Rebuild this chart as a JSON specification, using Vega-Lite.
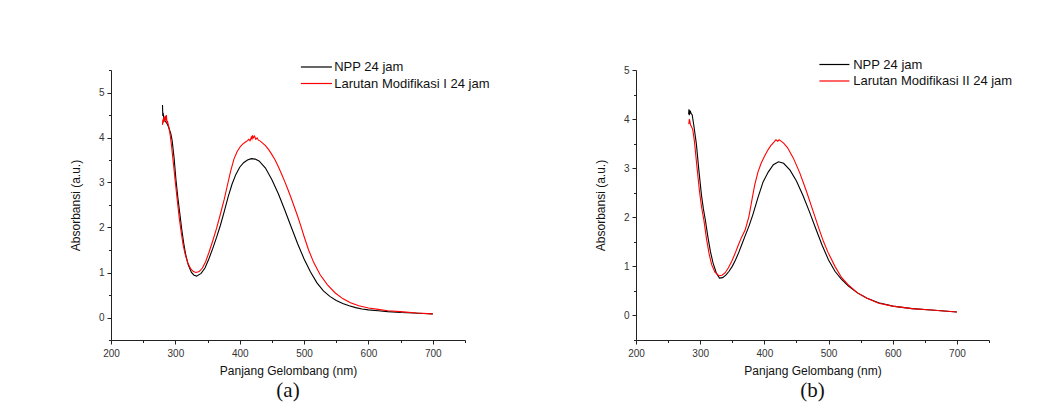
{
  "$schema": "https://vega.github.io/schema/vega-lite/v6.json",
  "background": "white",
  "padding": {"left": 69, "top": 57, "right": 5, "bottom": 2},
  "bounds": "flush",
  "spacing": 171,
  "datasets": {
    "a": [
      {"nm": 280, "abs": 4.72, "s": "NPP 24 jam"},
      {"nm": 280.5, "abs": 4.48, "s": "NPP 24 jam"},
      {"nm": 281, "abs": 4.55, "s": "NPP 24 jam"},
      {"nm": 282, "abs": 4.42, "s": "NPP 24 jam"},
      {"nm": 283, "abs": 4.4, "s": "NPP 24 jam"},
      {"nm": 284, "abs": 4.36, "s": "NPP 24 jam"},
      {"nm": 285, "abs": 4.35, "s": "NPP 24 jam"},
      {"nm": 287, "abs": 4.31, "s": "NPP 24 jam"},
      {"nm": 289, "abs": 4.25, "s": "NPP 24 jam"},
      {"nm": 291, "abs": 4.17, "s": "NPP 24 jam"},
      {"nm": 293, "abs": 4.08, "s": "NPP 24 jam"},
      {"nm": 295, "abs": 3.93, "s": "NPP 24 jam"},
      {"nm": 298, "abs": 3.55, "s": "NPP 24 jam"},
      {"nm": 301, "abs": 3.05, "s": "NPP 24 jam"},
      {"nm": 304, "abs": 2.65, "s": "NPP 24 jam"},
      {"nm": 307, "abs": 2.3, "s": "NPP 24 jam"},
      {"nm": 310, "abs": 1.95, "s": "NPP 24 jam"},
      {"nm": 313, "abs": 1.65, "s": "NPP 24 jam"},
      {"nm": 316, "abs": 1.4, "s": "NPP 24 jam"},
      {"nm": 320, "abs": 1.17, "s": "NPP 24 jam"},
      {"nm": 325, "abs": 1.0, "s": "NPP 24 jam"},
      {"nm": 329, "abs": 0.94, "s": "NPP 24 jam"},
      {"nm": 333, "abs": 0.92, "s": "NPP 24 jam"},
      {"nm": 340, "abs": 0.98, "s": "NPP 24 jam"},
      {"nm": 346, "abs": 1.1, "s": "NPP 24 jam"},
      {"nm": 352, "abs": 1.3, "s": "NPP 24 jam"},
      {"nm": 358, "abs": 1.53, "s": "NPP 24 jam"},
      {"nm": 364, "abs": 1.78, "s": "NPP 24 jam"},
      {"nm": 370, "abs": 2.05, "s": "NPP 24 jam"},
      {"nm": 376, "abs": 2.36, "s": "NPP 24 jam"},
      {"nm": 382, "abs": 2.68, "s": "NPP 24 jam"},
      {"nm": 388, "abs": 2.96, "s": "NPP 24 jam"},
      {"nm": 394, "abs": 3.18, "s": "NPP 24 jam"},
      {"nm": 400, "abs": 3.34, "s": "NPP 24 jam"},
      {"nm": 406, "abs": 3.44, "s": "NPP 24 jam"},
      {"nm": 412, "abs": 3.5, "s": "NPP 24 jam"},
      {"nm": 418, "abs": 3.53, "s": "NPP 24 jam"},
      {"nm": 424, "abs": 3.52, "s": "NPP 24 jam"},
      {"nm": 430, "abs": 3.48, "s": "NPP 24 jam"},
      {"nm": 440, "abs": 3.32, "s": "NPP 24 jam"},
      {"nm": 450, "abs": 3.06, "s": "NPP 24 jam"},
      {"nm": 460, "abs": 2.75, "s": "NPP 24 jam"},
      {"nm": 470, "abs": 2.39, "s": "NPP 24 jam"},
      {"nm": 480, "abs": 2.01, "s": "NPP 24 jam"},
      {"nm": 490, "abs": 1.64, "s": "NPP 24 jam"},
      {"nm": 500, "abs": 1.3, "s": "NPP 24 jam"},
      {"nm": 510, "abs": 1.01, "s": "NPP 24 jam"},
      {"nm": 520, "abs": 0.77, "s": "NPP 24 jam"},
      {"nm": 530, "abs": 0.59, "s": "NPP 24 jam"},
      {"nm": 540, "abs": 0.47, "s": "NPP 24 jam"},
      {"nm": 550, "abs": 0.38, "s": "NPP 24 jam"},
      {"nm": 560, "abs": 0.31, "s": "NPP 24 jam"},
      {"nm": 570, "abs": 0.26, "s": "NPP 24 jam"},
      {"nm": 580, "abs": 0.22, "s": "NPP 24 jam"},
      {"nm": 590, "abs": 0.19, "s": "NPP 24 jam"},
      {"nm": 600, "abs": 0.17, "s": "NPP 24 jam"},
      {"nm": 615, "abs": 0.15, "s": "NPP 24 jam"},
      {"nm": 630, "abs": 0.13, "s": "NPP 24 jam"},
      {"nm": 650, "abs": 0.11, "s": "NPP 24 jam"},
      {"nm": 670, "abs": 0.1, "s": "NPP 24 jam"},
      {"nm": 685, "abs": 0.09, "s": "NPP 24 jam"},
      {"nm": 700, "abs": 0.08, "s": "NPP 24 jam"},
      {"nm": 280, "abs": 4.28, "s": "Larutan Modifikasi I 24 jam"},
      {"nm": 280.5, "abs": 4.4, "s": "Larutan Modifikasi I 24 jam"},
      {"nm": 281, "abs": 4.32, "s": "Larutan Modifikasi I 24 jam"},
      {"nm": 282, "abs": 4.45, "s": "Larutan Modifikasi I 24 jam"},
      {"nm": 283, "abs": 4.36, "s": "Larutan Modifikasi I 24 jam"},
      {"nm": 284, "abs": 4.48, "s": "Larutan Modifikasi I 24 jam"},
      {"nm": 285, "abs": 4.38, "s": "Larutan Modifikasi I 24 jam"},
      {"nm": 286, "abs": 4.5, "s": "Larutan Modifikasi I 24 jam"},
      {"nm": 287, "abs": 4.33, "s": "Larutan Modifikasi I 24 jam"},
      {"nm": 288, "abs": 4.35, "s": "Larutan Modifikasi I 24 jam"},
      {"nm": 290, "abs": 4.22, "s": "Larutan Modifikasi I 24 jam"},
      {"nm": 292, "abs": 4.05, "s": "Larutan Modifikasi I 24 jam"},
      {"nm": 294, "abs": 3.82, "s": "Larutan Modifikasi I 24 jam"},
      {"nm": 297, "abs": 3.42, "s": "Larutan Modifikasi I 24 jam"},
      {"nm": 300, "abs": 3.0, "s": "Larutan Modifikasi I 24 jam"},
      {"nm": 303, "abs": 2.6, "s": "Larutan Modifikasi I 24 jam"},
      {"nm": 306, "abs": 2.22, "s": "Larutan Modifikasi I 24 jam"},
      {"nm": 309, "abs": 1.9, "s": "Larutan Modifikasi I 24 jam"},
      {"nm": 312, "abs": 1.62, "s": "Larutan Modifikasi I 24 jam"},
      {"nm": 315, "abs": 1.42, "s": "Larutan Modifikasi I 24 jam"},
      {"nm": 319, "abs": 1.22, "s": "Larutan Modifikasi I 24 jam"},
      {"nm": 324, "abs": 1.08, "s": "Larutan Modifikasi I 24 jam"},
      {"nm": 328, "abs": 1.02, "s": "Larutan Modifikasi I 24 jam"},
      {"nm": 332, "abs": 1.0, "s": "Larutan Modifikasi I 24 jam"},
      {"nm": 337, "abs": 1.02, "s": "Larutan Modifikasi I 24 jam"},
      {"nm": 342, "abs": 1.1, "s": "Larutan Modifikasi I 24 jam"},
      {"nm": 347, "abs": 1.24, "s": "Larutan Modifikasi I 24 jam"},
      {"nm": 352, "abs": 1.44, "s": "Larutan Modifikasi I 24 jam"},
      {"nm": 358, "abs": 1.7, "s": "Larutan Modifikasi I 24 jam"},
      {"nm": 364, "abs": 1.98, "s": "Larutan Modifikasi I 24 jam"},
      {"nm": 370, "abs": 2.3, "s": "Larutan Modifikasi I 24 jam"},
      {"nm": 376, "abs": 2.63, "s": "Larutan Modifikasi I 24 jam"},
      {"nm": 381, "abs": 2.95, "s": "Larutan Modifikasi I 24 jam"},
      {"nm": 386, "abs": 3.26, "s": "Larutan Modifikasi I 24 jam"},
      {"nm": 391, "abs": 3.52, "s": "Larutan Modifikasi I 24 jam"},
      {"nm": 396, "abs": 3.69, "s": "Larutan Modifikasi I 24 jam"},
      {"nm": 401, "abs": 3.8, "s": "Larutan Modifikasi I 24 jam"},
      {"nm": 405, "abs": 3.86, "s": "Larutan Modifikasi I 24 jam"},
      {"nm": 409, "abs": 3.9, "s": "Larutan Modifikasi I 24 jam"},
      {"nm": 412, "abs": 3.93, "s": "Larutan Modifikasi I 24 jam"},
      {"nm": 414, "abs": 3.96, "s": "Larutan Modifikasi I 24 jam"},
      {"nm": 416, "abs": 3.93, "s": "Larutan Modifikasi I 24 jam"},
      {"nm": 418, "abs": 4.01, "s": "Larutan Modifikasi I 24 jam"},
      {"nm": 419, "abs": 3.97, "s": "Larutan Modifikasi I 24 jam"},
      {"nm": 420, "abs": 4.05, "s": "Larutan Modifikasi I 24 jam"},
      {"nm": 421, "abs": 3.99, "s": "Larutan Modifikasi I 24 jam"},
      {"nm": 423, "abs": 4.03, "s": "Larutan Modifikasi I 24 jam"},
      {"nm": 425, "abs": 3.96, "s": "Larutan Modifikasi I 24 jam"},
      {"nm": 427, "abs": 3.99, "s": "Larutan Modifikasi I 24 jam"},
      {"nm": 429, "abs": 3.94, "s": "Larutan Modifikasi I 24 jam"},
      {"nm": 432, "abs": 3.92, "s": "Larutan Modifikasi I 24 jam"},
      {"nm": 436, "abs": 3.87, "s": "Larutan Modifikasi I 24 jam"},
      {"nm": 440, "abs": 3.82, "s": "Larutan Modifikasi I 24 jam"},
      {"nm": 445, "abs": 3.73, "s": "Larutan Modifikasi I 24 jam"},
      {"nm": 450, "abs": 3.62, "s": "Larutan Modifikasi I 24 jam"},
      {"nm": 455, "abs": 3.5, "s": "Larutan Modifikasi I 24 jam"},
      {"nm": 460, "abs": 3.35, "s": "Larutan Modifikasi I 24 jam"},
      {"nm": 465, "abs": 3.19, "s": "Larutan Modifikasi I 24 jam"},
      {"nm": 470, "abs": 3.02, "s": "Larutan Modifikasi I 24 jam"},
      {"nm": 475, "abs": 2.84, "s": "Larutan Modifikasi I 24 jam"},
      {"nm": 480, "abs": 2.65, "s": "Larutan Modifikasi I 24 jam"},
      {"nm": 485, "abs": 2.45, "s": "Larutan Modifikasi I 24 jam"},
      {"nm": 490, "abs": 2.25, "s": "Larutan Modifikasi I 24 jam"},
      {"nm": 495, "abs": 2.03, "s": "Larutan Modifikasi I 24 jam"},
      {"nm": 500, "abs": 1.8, "s": "Larutan Modifikasi I 24 jam"},
      {"nm": 507, "abs": 1.5, "s": "Larutan Modifikasi I 24 jam"},
      {"nm": 515, "abs": 1.22, "s": "Larutan Modifikasi I 24 jam"},
      {"nm": 525, "abs": 0.95, "s": "Larutan Modifikasi I 24 jam"},
      {"nm": 536, "abs": 0.73, "s": "Larutan Modifikasi I 24 jam"},
      {"nm": 548, "abs": 0.55, "s": "Larutan Modifikasi I 24 jam"},
      {"nm": 560, "abs": 0.42, "s": "Larutan Modifikasi I 24 jam"},
      {"nm": 572, "abs": 0.33, "s": "Larutan Modifikasi I 24 jam"},
      {"nm": 585, "abs": 0.26, "s": "Larutan Modifikasi I 24 jam"},
      {"nm": 600, "abs": 0.21, "s": "Larutan Modifikasi I 24 jam"},
      {"nm": 615, "abs": 0.18, "s": "Larutan Modifikasi I 24 jam"},
      {"nm": 630, "abs": 0.15, "s": "Larutan Modifikasi I 24 jam"},
      {"nm": 650, "abs": 0.13, "s": "Larutan Modifikasi I 24 jam"},
      {"nm": 675, "abs": 0.1, "s": "Larutan Modifikasi I 24 jam"},
      {"nm": 700, "abs": 0.08, "s": "Larutan Modifikasi I 24 jam"}
    ],
    "b": [
      {"nm": 282, "abs": 4.1, "s": "NPP 24 jam"},
      {"nm": 282.5, "abs": 4.2, "s": "NPP 24 jam"},
      {"nm": 283, "abs": 4.08, "s": "NPP 24 jam"},
      {"nm": 283.5, "abs": 4.18, "s": "NPP 24 jam"},
      {"nm": 284, "abs": 4.12, "s": "NPP 24 jam"},
      {"nm": 285, "abs": 4.15, "s": "NPP 24 jam"},
      {"nm": 286, "abs": 4.11, "s": "NPP 24 jam"},
      {"nm": 287.5, "abs": 4.09, "s": "NPP 24 jam"},
      {"nm": 290, "abs": 3.88, "s": "NPP 24 jam"},
      {"nm": 294, "abs": 3.5, "s": "NPP 24 jam"},
      {"nm": 298, "abs": 2.95, "s": "NPP 24 jam"},
      {"nm": 302, "abs": 2.45, "s": "NPP 24 jam"},
      {"nm": 305, "abs": 2.17, "s": "NPP 24 jam"},
      {"nm": 308, "abs": 1.95, "s": "NPP 24 jam"},
      {"nm": 312, "abs": 1.6, "s": "NPP 24 jam"},
      {"nm": 316, "abs": 1.3, "s": "NPP 24 jam"},
      {"nm": 320, "abs": 1.07, "s": "NPP 24 jam"},
      {"nm": 325, "abs": 0.87, "s": "NPP 24 jam"},
      {"nm": 330, "abs": 0.76, "s": "NPP 24 jam"},
      {"nm": 335, "abs": 0.77, "s": "NPP 24 jam"},
      {"nm": 340, "abs": 0.82, "s": "NPP 24 jam"},
      {"nm": 345, "abs": 0.9, "s": "NPP 24 jam"},
      {"nm": 350, "abs": 1.0, "s": "NPP 24 jam"},
      {"nm": 355, "abs": 1.13, "s": "NPP 24 jam"},
      {"nm": 360, "abs": 1.28, "s": "NPP 24 jam"},
      {"nm": 365, "abs": 1.45, "s": "NPP 24 jam"},
      {"nm": 370, "abs": 1.62, "s": "NPP 24 jam"},
      {"nm": 376, "abs": 1.82, "s": "NPP 24 jam"},
      {"nm": 382, "abs": 2.05, "s": "NPP 24 jam"},
      {"nm": 390, "abs": 2.4, "s": "NPP 24 jam"},
      {"nm": 398, "abs": 2.72, "s": "NPP 24 jam"},
      {"nm": 406, "abs": 2.92, "s": "NPP 24 jam"},
      {"nm": 414, "abs": 3.07, "s": "NPP 24 jam"},
      {"nm": 422, "abs": 3.13, "s": "NPP 24 jam"},
      {"nm": 430, "abs": 3.1, "s": "NPP 24 jam"},
      {"nm": 440, "abs": 2.96, "s": "NPP 24 jam"},
      {"nm": 450, "abs": 2.74, "s": "NPP 24 jam"},
      {"nm": 460, "abs": 2.45, "s": "NPP 24 jam"},
      {"nm": 470, "abs": 2.12, "s": "NPP 24 jam"},
      {"nm": 480, "abs": 1.77, "s": "NPP 24 jam"},
      {"nm": 490, "abs": 1.43, "s": "NPP 24 jam"},
      {"nm": 500, "abs": 1.13, "s": "NPP 24 jam"},
      {"nm": 510, "abs": 0.9, "s": "NPP 24 jam"},
      {"nm": 520, "abs": 0.74, "s": "NPP 24 jam"},
      {"nm": 531, "abs": 0.6, "s": "NPP 24 jam"},
      {"nm": 545, "abs": 0.46, "s": "NPP 24 jam"},
      {"nm": 560, "abs": 0.35, "s": "NPP 24 jam"},
      {"nm": 578, "abs": 0.26, "s": "NPP 24 jam"},
      {"nm": 600, "abs": 0.19, "s": "NPP 24 jam"},
      {"nm": 630, "abs": 0.14, "s": "NPP 24 jam"},
      {"nm": 660, "abs": 0.11, "s": "NPP 24 jam"},
      {"nm": 680, "abs": 0.09, "s": "NPP 24 jam"},
      {"nm": 700, "abs": 0.07, "s": "NPP 24 jam"},
      {"nm": 282, "abs": 3.92, "s": "Larutan Modifikasi II 24 jam"},
      {"nm": 282.5, "abs": 3.9, "s": "Larutan Modifikasi II 24 jam"},
      {"nm": 283, "abs": 4.0, "s": "Larutan Modifikasi II 24 jam"},
      {"nm": 284, "abs": 3.95, "s": "Larutan Modifikasi II 24 jam"},
      {"nm": 285, "abs": 3.88, "s": "Larutan Modifikasi II 24 jam"},
      {"nm": 286, "abs": 3.86, "s": "Larutan Modifikasi II 24 jam"},
      {"nm": 288.5, "abs": 3.78, "s": "Larutan Modifikasi II 24 jam"},
      {"nm": 291, "abs": 3.55, "s": "Larutan Modifikasi II 24 jam"},
      {"nm": 295, "abs": 3.02, "s": "Larutan Modifikasi II 24 jam"},
      {"nm": 299, "abs": 2.52, "s": "Larutan Modifikasi II 24 jam"},
      {"nm": 302, "abs": 2.22, "s": "Larutan Modifikasi II 24 jam"},
      {"nm": 306, "abs": 1.92, "s": "Larutan Modifikasi II 24 jam"},
      {"nm": 310, "abs": 1.55, "s": "Larutan Modifikasi II 24 jam"},
      {"nm": 314, "abs": 1.25, "s": "Larutan Modifikasi II 24 jam"},
      {"nm": 318, "abs": 1.03, "s": "Larutan Modifikasi II 24 jam"},
      {"nm": 323, "abs": 0.88, "s": "Larutan Modifikasi II 24 jam"},
      {"nm": 329, "abs": 0.81, "s": "Larutan Modifikasi II 24 jam"},
      {"nm": 334, "abs": 0.82, "s": "Larutan Modifikasi II 24 jam"},
      {"nm": 339, "abs": 0.87, "s": "Larutan Modifikasi II 24 jam"},
      {"nm": 344, "abs": 0.97, "s": "Larutan Modifikasi II 24 jam"},
      {"nm": 349, "abs": 1.1, "s": "Larutan Modifikasi II 24 jam"},
      {"nm": 354, "abs": 1.25, "s": "Larutan Modifikasi II 24 jam"},
      {"nm": 359, "abs": 1.42, "s": "Larutan Modifikasi II 24 jam"},
      {"nm": 364, "abs": 1.58, "s": "Larutan Modifikasi II 24 jam"},
      {"nm": 370, "abs": 1.74, "s": "Larutan Modifikasi II 24 jam"},
      {"nm": 376, "abs": 2.02, "s": "Larutan Modifikasi II 24 jam"},
      {"nm": 381, "abs": 2.38, "s": "Larutan Modifikasi II 24 jam"},
      {"nm": 385, "abs": 2.66, "s": "Larutan Modifikasi II 24 jam"},
      {"nm": 390, "abs": 2.92, "s": "Larutan Modifikasi II 24 jam"},
      {"nm": 395, "abs": 3.1, "s": "Larutan Modifikasi II 24 jam"},
      {"nm": 400, "abs": 3.24, "s": "Larutan Modifikasi II 24 jam"},
      {"nm": 405, "abs": 3.36, "s": "Larutan Modifikasi II 24 jam"},
      {"nm": 410, "abs": 3.46, "s": "Larutan Modifikasi II 24 jam"},
      {"nm": 415, "abs": 3.53, "s": "Larutan Modifikasi II 24 jam"},
      {"nm": 418, "abs": 3.58, "s": "Larutan Modifikasi II 24 jam"},
      {"nm": 421, "abs": 3.55, "s": "Larutan Modifikasi II 24 jam"},
      {"nm": 423, "abs": 3.58, "s": "Larutan Modifikasi II 24 jam"},
      {"nm": 426, "abs": 3.55, "s": "Larutan Modifikasi II 24 jam"},
      {"nm": 430, "abs": 3.51, "s": "Larutan Modifikasi II 24 jam"},
      {"nm": 436, "abs": 3.42, "s": "Larutan Modifikasi II 24 jam"},
      {"nm": 445, "abs": 3.21, "s": "Larutan Modifikasi II 24 jam"},
      {"nm": 455, "abs": 2.91, "s": "Larutan Modifikasi II 24 jam"},
      {"nm": 465, "abs": 2.55, "s": "Larutan Modifikasi II 24 jam"},
      {"nm": 475, "abs": 2.16, "s": "Larutan Modifikasi II 24 jam"},
      {"nm": 485, "abs": 1.77, "s": "Larutan Modifikasi II 24 jam"},
      {"nm": 492, "abs": 1.51, "s": "Larutan Modifikasi II 24 jam"},
      {"nm": 499, "abs": 1.29, "s": "Larutan Modifikasi II 24 jam"},
      {"nm": 510, "abs": 1.0, "s": "Larutan Modifikasi II 24 jam"},
      {"nm": 520, "abs": 0.78, "s": "Larutan Modifikasi II 24 jam"},
      {"nm": 531, "abs": 0.62, "s": "Larutan Modifikasi II 24 jam"},
      {"nm": 545, "abs": 0.46, "s": "Larutan Modifikasi II 24 jam"},
      {"nm": 560, "abs": 0.35, "s": "Larutan Modifikasi II 24 jam"},
      {"nm": 578, "abs": 0.25, "s": "Larutan Modifikasi II 24 jam"},
      {"nm": 600, "abs": 0.19, "s": "Larutan Modifikasi II 24 jam"},
      {"nm": 630, "abs": 0.14, "s": "Larutan Modifikasi II 24 jam"},
      {"nm": 660, "abs": 0.11, "s": "Larutan Modifikasi II 24 jam"},
      {"nm": 680, "abs": 0.09, "s": "Larutan Modifikasi II 24 jam"},
      {"nm": 700, "abs": 0.07, "s": "Larutan Modifikasi II 24 jam"}
    ]
  },
  "hconcat": [
    {
      "width": 354,
      "height": 270,
      "data": {"name": "a"},
      "title": {"text": "(a)", "orient": "bottom", "frame": "group"},
      "mark": {"type": "line", "strokeWidth": 1.1},
      "encoding": {
        "x": {
          "field": "nm", "type": "quantitative",
          "scale": {"domain": [200, 750], "nice": false, "zero": false},
          "axis": {
            "title": "Panjang Gelombang (nm)",
            "values": [200, 250, 300, 350, 400, 450, 500, 550, 600, 650, 700, 750],
            "labelExpr": "datum.value % 100 === 0 ? format(datum.value, 'd') : ''",
            "tickSize": {"condition": {"test": "datum.value % 100 !== 0", "value": 2.5}, "value": 4}
          }
        },
        "y": {
          "field": "abs", "type": "quantitative",
          "scale": {"domain": [-0.5, 5.5], "nice": false, "zero": false},
          "axis": {
            "title": "Absorbansi (a.u.)",
            "values": [-0.5, 0, 0.5, 1, 1.5, 2, 2.5, 3, 3.5, 4, 4.5, 5, 5.5],
            "labelExpr": "datum.value % 1 === 0 ? format(datum.value, 'd') : ''",
            "tickSize": {"condition": {"test": "datum.value % 1 !== 0", "value": 2.5}, "value": 4}
          }
        },
        "color": {
          "field": "s", "type": "nominal",
          "scale": {"domain": ["NPP 24 jam", "Larutan Modifikasi I 24 jam"], "range": ["#000000", "#ff0000"]},
          "legend": {"orient": "none", "legendX": 198.4, "legendY": -10, "symbolSize": 154, "labelOffset": 10.8}
        }
      }
    },
    {
      "width": 353,
      "height": 270,
      "data": {"name": "b"},
      "title": {"text": "(b)", "orient": "bottom", "frame": "group"},
      "mark": {"type": "line", "strokeWidth": 1.1},
      "encoding": {
        "x": {
          "field": "nm", "type": "quantitative",
          "scale": {"domain": [200, 750], "nice": false, "zero": false},
          "axis": {
            "title": "Panjang Gelombang (nm)",
            "values": [200, 250, 300, 350, 400, 450, 500, 550, 600, 650, 700, 750],
            "labelExpr": "datum.value % 100 === 0 ? format(datum.value, 'd') : ''",
            "tickSize": {"condition": {"test": "datum.value % 100 !== 0", "value": 2.5}, "value": 4}
          }
        },
        "y": {
          "field": "abs", "type": "quantitative",
          "scale": {"domain": [-0.5, 5], "nice": false, "zero": false},
          "axis": {
            "title": "Absorbansi (a.u.)",
            "values": [-0.5, 0, 0.5, 1, 1.5, 2, 2.5, 3, 3.5, 4, 4.5, 5],
            "labelExpr": "datum.value % 1 === 0 ? format(datum.value, 'd') : ''",
            "tickSize": {"condition": {"test": "datum.value % 1 !== 0", "value": 2.5}, "value": 4}
          }
        },
        "color": {
          "field": "s", "type": "nominal",
          "scale": {"domain": ["NPP 24 jam", "Larutan Modifikasi II 24 jam"], "range": ["#000000", "#ff0000"]},
          "legend": {"orient": "none", "legendX": 191.4, "legendY": -12.5, "symbolSize": 144, "labelOffset": 11.8}
        }
      }
    }
  ],
  "resolve": {"scale": {"color": "independent", "x": "independent", "y": "independent"}, "legend": {"color": "independent"}},
  "config": {
    "view": {"stroke": null},
    "font": "Liberation Sans",
    "axis": {
      "grid": false,
      "domainColor": "#222222",
      "domainWidth": 1,
      "tickColor": "#222222",
      "tickWidth": 1,
      "labelFont": "Liberation Sans",
      "labelFontSize": 10,
      "labelColor": "#333333",
      "labelPadding": 3,
      "labelFlush": false,
      "labelOverlap": false,
      "titleFont": "Liberation Sans",
      "titleFontSize": 12,
      "titleFontWeight": "normal",
      "titleColor": "#111111"
    },
    "axisY": {"titlePadding": 16},
    "axisX": {"titlePadding": 7, "labelPadding": 4},
    "legend": {
      "title": null,
      "symbolType": "M-2.5,0H2.5",
      "symbolStrokeWidth": 1.2,
      "labelFont": "Liberation Sans",
      "labelFontSize": 13,
      "labelColor": "#111111",
      "labelLimit": 300,
      "rowPadding": 2.5,
      "padding": 0
    },
    "title": {
      "font": "Liberation Serif",
      "fontSize": 21,
      "fontWeight": "normal",
      "color": "#111111",
      "offset": 4
    }
  }
}
